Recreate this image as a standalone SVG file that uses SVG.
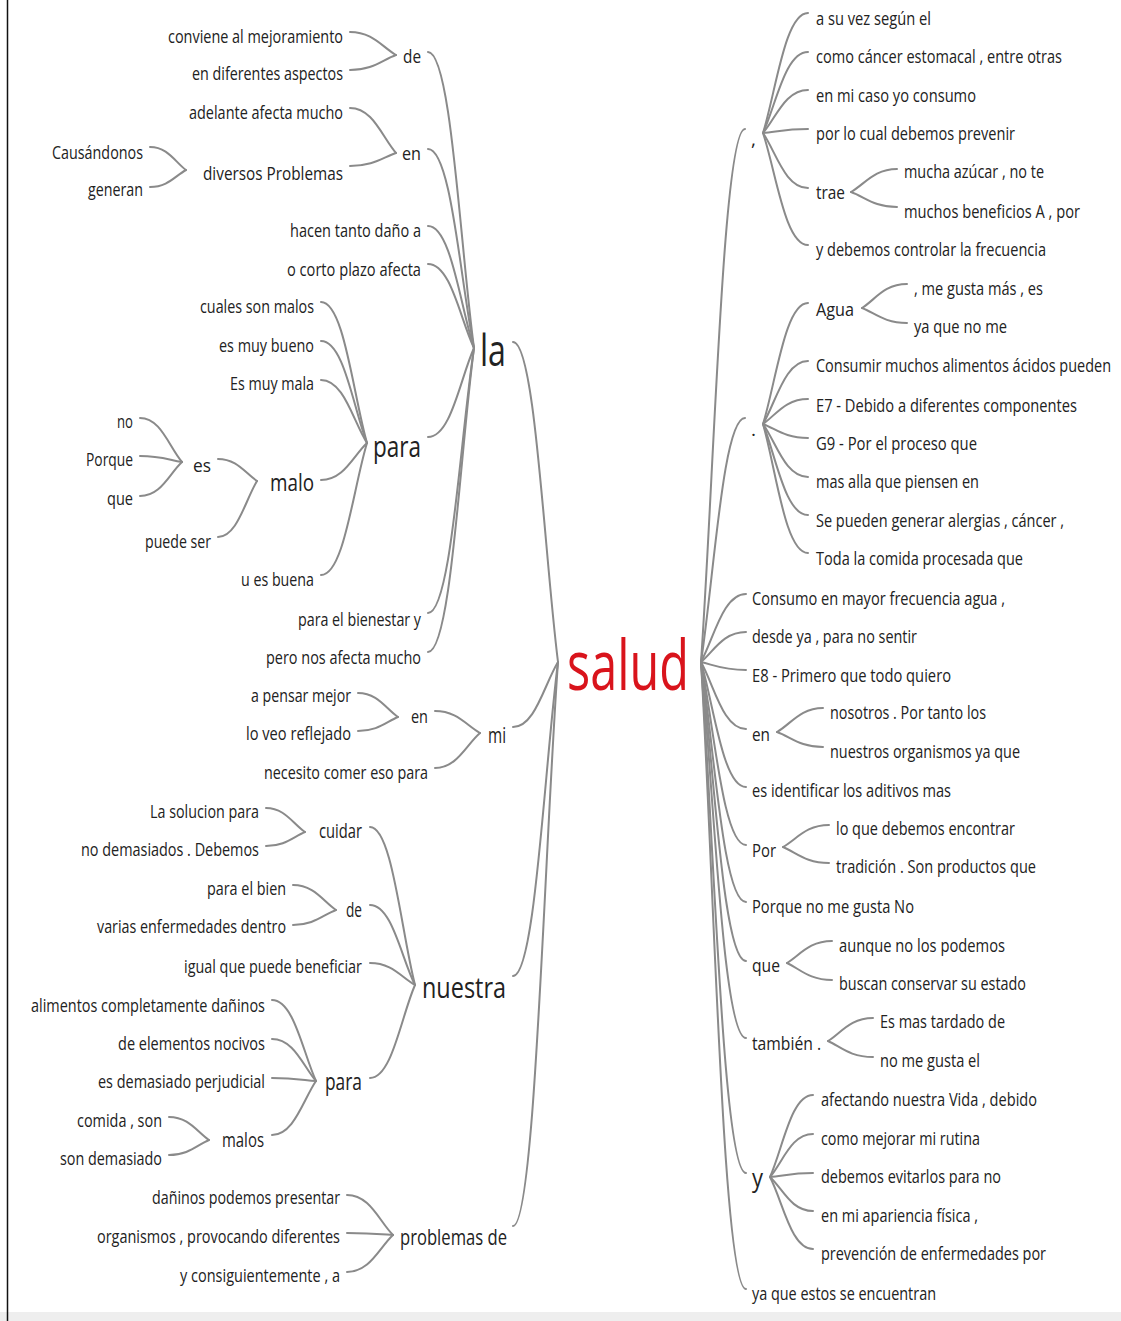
<svg xmlns="http://www.w3.org/2000/svg" width="1121" height="1321" viewBox="0 0 1121 1321">
<style>
.t{font-family:"Open Sans","Noto Sans","DejaVu Sans",sans-serif;font-size:19px;fill:#222}
.e{text-anchor:end}
.l{fill:none;stroke:#8a8a8a;stroke-width:2;stroke-linecap:round}
.red{fill:#d9141c}
</style>
<rect x="0" y="0" width="1121" height="1321" fill="#ffffff"/>
<rect x="0" y="1312" width="1121" height="9" fill="#eeeeee"/>
<line x1="7.5" y1="0" x2="7.5" y2="1321" stroke="#111" stroke-width="1.5"/>
<g id="connectors" class="l">
<path d="M513 342 C535 342 544 550 558 662"/>
<path d="M513 727 C535 727 544 685 558 662"/>
<path d="M513 976 C535 976 544 772 558 662"/>
<path d="M513 1226 C535 1226 544 859 558 662"/>
<path d="M428 52 C451 52 460 244 474 348"/>
<path d="M428 149 C451 149 460 278 474 348"/>
<path d="M428 226 C451 226 460 305 474 348"/>
<path d="M428 264 C451 264 460 319 474 348"/>
<path d="M428 437 C451 437 460 379 474 348"/>
<path d="M428 613 C451 613 460 441 474 348"/>
<path d="M428 652 C451 652 460 454 474 348"/>
<path d="M350 32 C373 32 382 47 396 55"/>
<path d="M350 70 C373 70 382 60 396 55"/>
<path d="M350 108 C373 108 382 137 396 153"/>
<path d="M350 166 C373 166 382 158 396 153"/>
<path d="M150 147 C168 147 175 162 186 170"/>
<path d="M150 187 C168 187 175 176 186 170"/>
<path d="M321 302 C344 302 353 394 367 443"/>
<path d="M321 341 C344 341 353 407 367 443"/>
<path d="M321 380 C344 380 353 421 367 443"/>
<path d="M321 480 C344 480 353 456 367 443"/>
<path d="M321 575 C344 575 353 489 367 443"/>
<path d="M218 459 C237 459 245 473 257 481"/>
<path d="M218 537 C237 537 245 501 257 481"/>
<path d="M140 418 C161 418 169 447 182 462"/>
<path d="M140 456 C161 456 169 460 182 462"/>
<path d="M140 496 C161 496 169 474 182 462"/>
<path d="M435 711 C457 711 466 725 480 733"/>
<path d="M435 768 C457 768 466 745 480 733"/>
<path d="M358 693 C378 693 386 709 398 717"/>
<path d="M358 731 C378 731 386 722 398 717"/>
<path d="M370 827 C392 827 401 930 415 985"/>
<path d="M370 905 C392 905 401 957 415 985"/>
<path d="M370 963 C392 963 401 977 415 985"/>
<path d="M370 1078 C392 1078 401 1017 415 985"/>
<path d="M266 808 C285 808 293 824 305 832"/>
<path d="M266 846 C285 846 293 837 305 832"/>
<path d="M293 885 C314 885 323 901 336 910"/>
<path d="M293 925 C314 925 323 915 336 910"/>
<path d="M272 1000 C294 1000 303 1053 316 1081"/>
<path d="M272 1039 C294 1039 303 1066 316 1081"/>
<path d="M272 1078 C294 1078 303 1080 316 1081"/>
<path d="M272 1135 C294 1135 303 1100 316 1081"/>
<path d="M169 1117 C189 1117 197 1132 209 1140"/>
<path d="M169 1155 C189 1155 197 1145 209 1140"/>
<path d="M347 1195 C370 1195 379 1221 393 1235"/>
<path d="M347 1233 C370 1233 379 1234 393 1235"/>
<path d="M347 1272 C370 1272 379 1248 393 1235"/>
<path d="M701 662 C714 475 723 129 745 129"/>
<path d="M701 662 C714 577 723 418 745 418"/>
<path d="M701 662 C714 638 723 594 746 594"/>
<path d="M701 662 C714 651 723 632 746 632"/>
<path d="M701 662 C714 665 723 670 746 670"/>
<path d="M701 662 C714 685 723 729 746 729"/>
<path d="M701 662 C714 706 723 787 746 787"/>
<path d="M701 662 C714 726 723 845 746 845"/>
<path d="M701 662 C714 746 723 902 746 902"/>
<path d="M701 662 C714 767 723 961 746 961"/>
<path d="M701 662 C714 794 723 1038 746 1038"/>
<path d="M701 662 C714 841 723 1173 746 1173"/>
<path d="M701 662 C714 881 723 1289 746 1289"/>
<path d="M763 133 C776 91 785 13 808 13"/>
<path d="M763 133 C776 105 785 52 808 52"/>
<path d="M763 133 C776 118 785 90 808 90"/>
<path d="M763 133 C776 132 785 129 808 129"/>
<path d="M763 133 C776 152 785 188 808 188"/>
<path d="M763 133 C776 172 785 245 808 245"/>
<path d="M851 192 C865 184 874 169 897 169"/>
<path d="M851 192 C865 197 874 207 897 207"/>
<path d="M763 424 C776 382 785 303 808 303"/>
<path d="M763 424 C776 402 785 361 808 361"/>
<path d="M763 424 C776 415 785 399 808 399"/>
<path d="M763 424 C776 429 785 438 808 438"/>
<path d="M763 424 C776 442 785 477 808 477"/>
<path d="M763 424 C776 456 785 515 808 515"/>
<path d="M763 424 C776 469 785 553 808 553"/>
<path d="M862 308 C875 300 884 284 907 284"/>
<path d="M862 308 C875 313 884 323 907 323"/>
<path d="M777 732 C791 724 800 708 823 708"/>
<path d="M777 732 C791 737 800 747 823 747"/>
<path d="M783 847 C797 839 806 825 829 825"/>
<path d="M783 847 C797 853 806 863 829 863"/>
<path d="M787 963 C800 955 809 941 832 941"/>
<path d="M787 963 C800 969 809 980 832 980"/>
<path d="M828 1041 C841 1033 850 1018 873 1018"/>
<path d="M828 1041 C841 1047 850 1057 873 1057"/>
<path d="M770 1177 C783 1148 791 1095 813 1095"/>
<path d="M770 1177 C783 1162 791 1134 813 1134"/>
<path d="M770 1177 C783 1176 791 1173 813 1173"/>
<path d="M770 1177 C783 1189 791 1211 813 1211"/>
<path d="M770 1177 C783 1202 791 1249 813 1249"/>
</g>
<g id="n-salud"><text class="t red" x="567" y="690" style="font-size:70px" textLength="122" lengthAdjust="spacingAndGlyphs">salud</text></g>
<g id="n-la"><text class="t e" x="506" y="366" style="font-size:44px" textLength="26" lengthAdjust="spacingAndGlyphs">la</text></g>
<g id="n-de1"><text class="t e" x="421" y="63" textLength="18" lengthAdjust="spacingAndGlyphs">de</text></g>
<g id="n-en1"><text class="t e" x="421" y="160" textLength="19" lengthAdjust="spacingAndGlyphs">en</text></g>
<g id="n-hacen"><text class="t e" x="421" y="237" textLength="131" lengthAdjust="spacingAndGlyphs">hacen tanto daño a</text></g>
<g id="n-ocorto"><text class="t e" x="421" y="276" textLength="134" lengthAdjust="spacingAndGlyphs">o corto plazo afecta</text></g>
<g id="n-para1"><text class="t e" x="421" y="457" style="font-size:30px" textLength="48" lengthAdjust="spacingAndGlyphs">para</text></g>
<g id="n-bienestar"><text class="t e" x="421" y="626" textLength="123" lengthAdjust="spacingAndGlyphs">para el bienestar y</text></g>
<g id="n-pero"><text class="t e" x="421" y="664" textLength="155" lengthAdjust="spacingAndGlyphs">pero nos afecta mucho</text></g>
<g id="n-conviene"><text class="t e" x="343" y="43" textLength="175" lengthAdjust="spacingAndGlyphs">conviene al mejoramiento</text></g>
<g id="n-aspectos"><text class="t e" x="343" y="80" textLength="151" lengthAdjust="spacingAndGlyphs">en diferentes aspectos</text></g>
<g id="n-adelante"><text class="t e" x="343" y="119" textLength="154" lengthAdjust="spacingAndGlyphs">adelante afecta mucho</text></g>
<g id="n-diversos"><text class="t e" x="343" y="180" textLength="140" lengthAdjust="spacingAndGlyphs">diversos Problemas</text></g>
<g id="n-causandonos"><text class="t e" x="143" y="159" textLength="91" lengthAdjust="spacingAndGlyphs">Causándonos</text></g>
<g id="n-generan"><text class="t e" x="143" y="196" textLength="55" lengthAdjust="spacingAndGlyphs">generan</text></g>
<g id="n-cuales"><text class="t e" x="314" y="313" textLength="114" lengthAdjust="spacingAndGlyphs">cuales son malos</text></g>
<g id="n-esmuybueno"><text class="t e" x="314" y="352" textLength="95" lengthAdjust="spacingAndGlyphs">es muy bueno</text></g>
<g id="n-esmuymala"><text class="t e" x="314" y="390" textLength="84" lengthAdjust="spacingAndGlyphs">Es muy mala</text></g>
<g id="n-malo"><text class="t e" x="314" y="491" style="font-size:24px" textLength="44" lengthAdjust="spacingAndGlyphs">malo</text></g>
<g id="n-uesbuena"><text class="t e" x="314" y="586" textLength="73" lengthAdjust="spacingAndGlyphs">u es buena</text></g>
<g id="n-es"><text class="t e" x="211" y="472" textLength="18" lengthAdjust="spacingAndGlyphs">es</text></g>
<g id="n-puedeser"><text class="t e" x="211" y="548" textLength="66" lengthAdjust="spacingAndGlyphs">puede ser</text></g>
<g id="n-no"><text class="t e" x="133" y="428" textLength="16" lengthAdjust="spacingAndGlyphs">no</text></g>
<g id="n-porque"><text class="t e" x="133" y="466" textLength="47" lengthAdjust="spacingAndGlyphs">Porque</text></g>
<g id="n-que"><text class="t e" x="133" y="505" textLength="26" lengthAdjust="spacingAndGlyphs">que</text></g>
<g id="n-mi"><text class="t e" x="506" y="743" style="font-size:21px" textLength="18" lengthAdjust="spacingAndGlyphs">mi</text></g>
<g id="n-en2"><text class="t e" x="428" y="723" textLength="17" lengthAdjust="spacingAndGlyphs">en</text></g>
<g id="n-necesito"><text class="t e" x="428" y="779" textLength="164" lengthAdjust="spacingAndGlyphs">necesito comer eso para</text></g>
<g id="n-pensar"><text class="t e" x="351" y="702" textLength="100" lengthAdjust="spacingAndGlyphs">a pensar mejor</text></g>
<g id="n-reflejado"><text class="t e" x="351" y="740" textLength="105" lengthAdjust="spacingAndGlyphs">lo veo reflejado</text></g>
<g id="n-nuestra"><text class="t e" x="506" y="998" style="font-size:30px" textLength="84" lengthAdjust="spacingAndGlyphs">nuestra</text></g>
<g id="n-cuidar"><text class="t e" x="362" y="838" style="font-size:20px" textLength="43" lengthAdjust="spacingAndGlyphs">cuidar</text></g>
<g id="n-de2"><text class="t e" x="362" y="917" style="font-size:20px" textLength="16" lengthAdjust="spacingAndGlyphs">de</text></g>
<g id="n-igual"><text class="t e" x="362" y="973" textLength="178" lengthAdjust="spacingAndGlyphs">igual que puede beneficiar</text></g>
<g id="n-para2"><text class="t e" x="362" y="1090" style="font-size:24px" textLength="37" lengthAdjust="spacingAndGlyphs">para</text></g>
<g id="n-solucion"><text class="t e" x="259" y="818" textLength="109" lengthAdjust="spacingAndGlyphs">La solucion para</text></g>
<g id="n-demasiados"><text class="t e" x="259" y="856" textLength="178" lengthAdjust="spacingAndGlyphs">no demasiados . Debemos</text></g>
<g id="n-bien"><text class="t e" x="286" y="895" textLength="79" lengthAdjust="spacingAndGlyphs">para el bien</text></g>
<g id="n-varias"><text class="t e" x="286" y="933" textLength="189" lengthAdjust="spacingAndGlyphs">varias enfermedades dentro</text></g>
<g id="n-alimentos"><text class="t e" x="265" y="1012" textLength="234" lengthAdjust="spacingAndGlyphs">alimentos completamente dañinos</text></g>
<g id="n-elementos"><text class="t e" x="265" y="1050" textLength="147" lengthAdjust="spacingAndGlyphs">de elementos nocivos</text></g>
<g id="n-perjudicial"><text class="t e" x="265" y="1088" textLength="167" lengthAdjust="spacingAndGlyphs">es demasiado perjudicial</text></g>
<g id="n-malos"><text class="t e" x="264" y="1147" style="font-size:20px" textLength="42" lengthAdjust="spacingAndGlyphs">malos</text></g>
<g id="n-comida"><text class="t e" x="162" y="1127" textLength="85" lengthAdjust="spacingAndGlyphs">comida , son</text></g>
<g id="n-sondemasiado"><text class="t e" x="162" y="1165" textLength="102" lengthAdjust="spacingAndGlyphs">son demasiado</text></g>
<g id="n-problemas"><text class="t e" x="507" y="1245" style="font-size:21px" textLength="107" lengthAdjust="spacingAndGlyphs">problemas de</text></g>
<g id="n-danino"><text class="t e" x="340" y="1204" textLength="188" lengthAdjust="spacingAndGlyphs">dañinos podemos presentar</text></g>
<g id="n-organismos"><text class="t e" x="340" y="1243" textLength="243" lengthAdjust="spacingAndGlyphs">organismos , provocando diferentes</text></g>
<g id="n-consiguiente"><text class="t e" x="340" y="1282" textLength="160" lengthAdjust="spacingAndGlyphs">y consiguientemente , a</text></g>
<g id="n-coma"><text class="t" x="751" y="146">,</text></g>
<g id="n-punto"><text class="t" x="751" y="436">.</text></g>
<g id="n-consumo"><text class="t" x="752" y="605" textLength="253" lengthAdjust="spacingAndGlyphs">Consumo en mayor frecuencia agua ,</text></g>
<g id="n-desde"><text class="t" x="752" y="643" textLength="165" lengthAdjust="spacingAndGlyphs">desde ya , para no sentir</text></g>
<g id="n-e8"><text class="t" x="752" y="682" textLength="199" lengthAdjust="spacingAndGlyphs">E8 - Primero que todo quiero</text></g>
<g id="n-en3"><text class="t" x="752" y="741" textLength="18" lengthAdjust="spacingAndGlyphs">en</text></g>
<g id="n-identificar"><text class="t" x="752" y="797" textLength="199" lengthAdjust="spacingAndGlyphs">es identificar los aditivos mas</text></g>
<g id="n-por"><text class="t" x="752" y="857" textLength="24" lengthAdjust="spacingAndGlyphs">Por</text></g>
<g id="n-porqueno"><text class="t" x="752" y="913" textLength="162" lengthAdjust="spacingAndGlyphs">Porque no me gusta No</text></g>
<g id="n-que2"><text class="t" x="752" y="972" textLength="28" lengthAdjust="spacingAndGlyphs">que</text></g>
<g id="n-tambien"><text class="t" x="752" y="1050" textLength="69" lengthAdjust="spacingAndGlyphs">también .</text></g>
<g id="n-y"><text class="t" x="752" y="1187" style="font-size:26px" textLength="11" lengthAdjust="spacingAndGlyphs">y</text></g>
<g id="n-yaque"><text class="t" x="752" y="1300" textLength="184" lengthAdjust="spacingAndGlyphs">ya que estos se encuentran</text></g>
<g id="n-asuvez"><text class="t" x="816" y="25" textLength="115" lengthAdjust="spacingAndGlyphs">a su vez según el</text></g>
<g id="n-cancer"><text class="t" x="816" y="63" textLength="246" lengthAdjust="spacingAndGlyphs">como cáncer estomacal , entre otras</text></g>
<g id="n-micaso"><text class="t" x="816" y="102" textLength="160" lengthAdjust="spacingAndGlyphs">en mi caso yo consumo</text></g>
<g id="n-prevenir"><text class="t" x="816" y="140" textLength="199" lengthAdjust="spacingAndGlyphs">por lo cual debemos prevenir</text></g>
<g id="n-trae"><text class="t" x="816" y="199" textLength="29" lengthAdjust="spacingAndGlyphs">trae</text></g>
<g id="n-frecuencia"><text class="t" x="816" y="256" textLength="230" lengthAdjust="spacingAndGlyphs">y debemos controlar la frecuencia</text></g>
<g id="n-azucar"><text class="t" x="904" y="178" textLength="140" lengthAdjust="spacingAndGlyphs">mucha azúcar , no te</text></g>
<g id="n-beneficios"><text class="t" x="904" y="218" textLength="176" lengthAdjust="spacingAndGlyphs">muchos beneficios A , por</text></g>
<g id="n-agua"><text class="t" x="816" y="316" textLength="38" lengthAdjust="spacingAndGlyphs">Agua</text></g>
<g id="n-consumir"><text class="t" x="816" y="372" textLength="295" lengthAdjust="spacingAndGlyphs">Consumir muchos alimentos ácidos pueden</text></g>
<g id="n-e7"><text class="t" x="816" y="412" textLength="261" lengthAdjust="spacingAndGlyphs">E7 - Debido a diferentes componentes</text></g>
<g id="n-g9"><text class="t" x="816" y="450" textLength="161" lengthAdjust="spacingAndGlyphs">G9 - Por el proceso que</text></g>
<g id="n-masalla"><text class="t" x="816" y="488" textLength="163" lengthAdjust="spacingAndGlyphs">mas alla que piensen en</text></g>
<g id="n-alergias"><text class="t" x="816" y="527" textLength="248" lengthAdjust="spacingAndGlyphs">Se pueden generar alergias , cáncer ,</text></g>
<g id="n-toda"><text class="t" x="816" y="565" textLength="207" lengthAdjust="spacingAndGlyphs">Toda la comida procesada que</text></g>
<g id="n-megusta"><text class="t" x="914" y="295" textLength="129" lengthAdjust="spacingAndGlyphs">, me gusta más , es</text></g>
<g id="n-yaquenome"><text class="t" x="914" y="333" textLength="93" lengthAdjust="spacingAndGlyphs">ya que no me</text></g>
<g id="n-nosotros"><text class="t" x="830" y="719" textLength="156" lengthAdjust="spacingAndGlyphs">nosotros . Por tanto los</text></g>
<g id="n-nuestros"><text class="t" x="830" y="758" textLength="190" lengthAdjust="spacingAndGlyphs">nuestros organismos ya que</text></g>
<g id="n-loque"><text class="t" x="836" y="835" textLength="179" lengthAdjust="spacingAndGlyphs">lo que debemos encontrar</text></g>
<g id="n-tradicion"><text class="t" x="836" y="873" textLength="200" lengthAdjust="spacingAndGlyphs">tradición . Son productos que</text></g>
<g id="n-aunque"><text class="t" x="839" y="952" textLength="166" lengthAdjust="spacingAndGlyphs">aunque no los podemos</text></g>
<g id="n-buscan"><text class="t" x="839" y="990" textLength="187" lengthAdjust="spacingAndGlyphs">buscan conservar su estado</text></g>
<g id="n-tardado"><text class="t" x="880" y="1028" textLength="125" lengthAdjust="spacingAndGlyphs">Es mas tardado de</text></g>
<g id="n-nomegusta"><text class="t" x="880" y="1067" textLength="100" lengthAdjust="spacingAndGlyphs">no me gusta el</text></g>
<g id="n-afectando"><text class="t" x="821" y="1106" textLength="216" lengthAdjust="spacingAndGlyphs">afectando nuestra Vida , debido</text></g>
<g id="n-rutina"><text class="t" x="821" y="1145" textLength="159" lengthAdjust="spacingAndGlyphs">como mejorar mi rutina</text></g>
<g id="n-evitarlos"><text class="t" x="821" y="1183" textLength="180" lengthAdjust="spacingAndGlyphs">debemos evitarlos para no</text></g>
<g id="n-apariencia"><text class="t" x="821" y="1222" textLength="157" lengthAdjust="spacingAndGlyphs">en mi apariencia física ,</text></g>
<g id="n-prevencion"><text class="t" x="821" y="1260" textLength="225" lengthAdjust="spacingAndGlyphs">prevención de enfermedades por</text></g>
</svg>
